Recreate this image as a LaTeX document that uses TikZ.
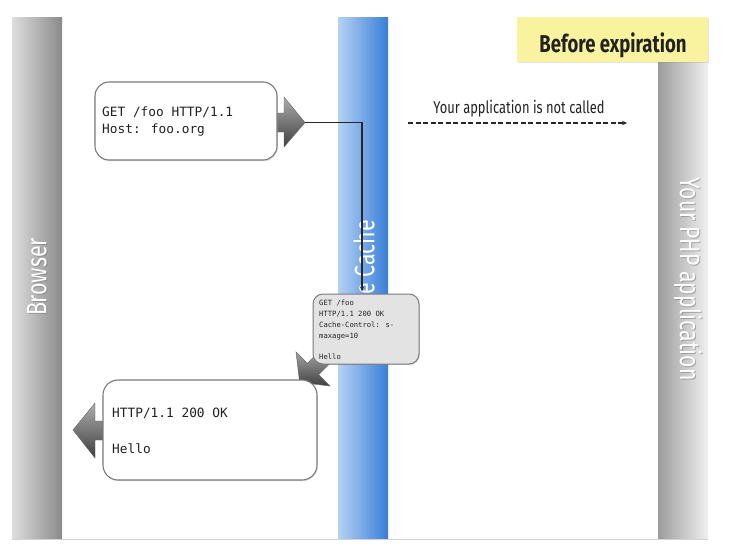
\documentclass[tikz,border=0pt]{standalone}
\usepackage{fontspec}
\setmainfont{Fira Sans}
\newfontfamily\condf[FakeStretch=0.76]{Fira Sans}
\newfontfamily\monof{DejaVu Sans Mono}
\usetikzlibrary{arrows.meta,shadows}
\definecolor{bwlight}{HTML}{DEDEDE}
\definecolor{bwdark}{HTML}{8A8A8A}
\definecolor{phpdark}{HTML}{9C9C9C}
\definecolor{phplight}{HTML}{F0F0F0}
\definecolor{cachelight}{HTML}{B4D2F4}
\definecolor{cachedark}{HTML}{3A7ED8}
\definecolor{yellowbg}{HTML}{F9F29E}
\definecolor{boxline}{HTML}{7A7A7A}
\definecolor{inktext}{HTML}{222222}
\begin{document}
\begin{tikzpicture}[x=1pt,y=-1pt,
  msgbox/.style={draw=boxline, line width=1.1pt, rounded corners=14pt, fill=white,
    drop shadow={opacity=0.25, shadow xshift=0.8pt, shadow yshift=-1.2pt}},
  cachemsg/.style={draw=boxline, line width=1pt, rounded corners=10pt, fill=gray!22,
    drop shadow={opacity=0.25, shadow xshift=0.8pt, shadow yshift=-1.2pt}},
  monotext/.style={anchor=base west, inner sep=0pt, text=inktext, font=\monof\fontsize{12.8}{15}\selectfont},
  smallmono/.style={anchor=base west, inner sep=0pt, text=inktext, font=\monof\fontsize{7.2}{9}\selectfont},
  barlabel/.style={inner sep=0pt, text=white, font=\condf\fontsize{28}{32}\selectfont},
  barshadow/.style={inner sep=0pt, text=black!55, opacity=0.5, font=\condf\fontsize{28}{32}\selectfont},
  blockarrow/.style={shade, top color=gray!65, bottom color=black!75, draw=black!60, line width=0.4pt},
  conn/.style={draw=black!85, line width=1.2pt, -{Stealth[length=5pt,width=4pt]}},
  dashedarrow/.style={draw=black!85, line width=1.3pt, dash pattern=on 5pt off 2.5pt, -{Stealth[length=5pt,width=4.5pt]}}
]
\useasboundingbox (0,0) rectangle (730,549);
\fill[white] (0,0) rectangle (730,549);

% lanes
\shade[left color=bwlight, right color=bwdark] (12,17) rectangle (62,538);
\shade[left color=cachelight, right color=cachedark] (338,17) rectangle (388,538);
\shade[left color=phpdark, right color=phplight] (658,62) rectangle (708,538);
\draw[gray!35, line width=0.8pt] (12,539) -- (708,539);

% lane labels
\node[barshadow, rotate=90] at (38,278) {Browser};
\node[barlabel, rotate=90] (browserlbl) at (37,277) {Browser};
\node[barshadow, rotate=-90] at (689,280) {Your PHP application};
\node[barlabel, rotate=-90] (phplbl) at (688,279) {Your PHP application};
\node[barlabel, rotate=90] (cachelbl) at (364,257.5) {e Cache};

% title
\node[fill=yellowbg, minimum width=191pt, minimum height=45pt, inner sep=0pt,
  drop shadow={opacity=0.2, shadow xshift=0.8pt, shadow yshift=-1.2pt}] (title) at (612.5,39.5) {};
\node[anchor=base, inner sep=0pt, text=inktext, font=\condf\bfseries\fontsize{24.4}{28}\selectfont] (titletext) at (613,52) {Before expiration};

% request arrow and box
\path[blockarrow] (275,113) -- (284,113) -- (284,97) -- (305,122.5) -- (284,147) -- (284,132) -- (275,132) -- cycle;
\coordinate (reqtip) at (305,122.5);
\node[msgbox, minimum width=182pt, minimum height=78pt, inner sep=0pt] (req) at (186,121) {};
\node[monotext] (req1) at (102,116) {GET /foo HTTP/1.1};
\node[monotext] (req2) at (102,133) {Host: foo.org};

% diagonal arrow from cache box
\path[blockarrow] (321.4,349.2) -- (307.3,363.3) -- (296,352) -- (299.6,382.4) -- (330,386) -- (318.7,374.7) -- (332.8,360.6) -- cycle;

% cache response box
\node[cachemsg, minimum width=106pt, minimum height=70pt, inner sep=0pt] (cachebox) at (366,329) {};
\node[smallmono] (c1) at (319,305) {GET /foo};
\node[smallmono] (c2) at (319,316) {HTTP/1.1 200 OK};
\node[smallmono] (c3) at (319,327) {Cache-Control: s-};
\node[smallmono] (c4) at (319,338) {maxage=10};
\node[smallmono] (c5) at (319,359) {Hello};

% connector request -> cache
\draw[conn, shorten >=2pt] (reqtip) -| ([xshift=-4pt]cachebox.north);

% response arrow and box
\path[blockarrow] (104,421) -- (95,421) -- (95,403) -- (73,430) -- (95,458) -- (95,440) -- (104,440) -- cycle;
\node[msgbox, minimum width=214pt, minimum height=100pt, inner sep=0pt, rounded corners=15pt] (resp) at (210,430) {};
\node[monotext] (r1) at (112,417) {HTTP/1.1 200 OK};
\node[monotext] (r2) at (112,453) {Hello};

% not called
\coordinate (dashA) at (408,123);
\coordinate (dashB) at (627,123);
\draw[dashedarrow] (dashA) -- (dashB);
\node[anchor=base, inner sep=0pt, text=inktext, font=\condf\fontsize{17}{20}\selectfont] (notcalled) at (519,113) {Your application is not called};
\end{tikzpicture}
\end{document}
